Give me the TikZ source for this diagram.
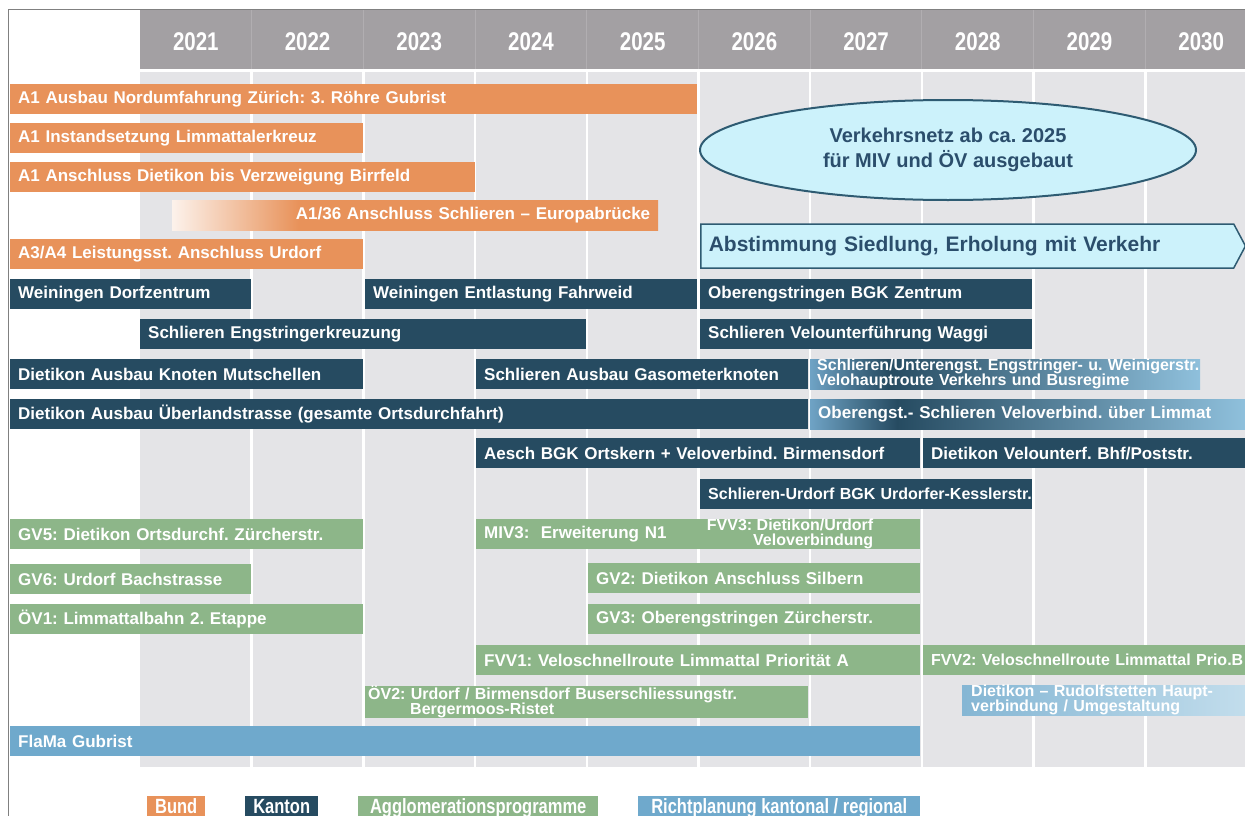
\documentclass[tikz,border=0pt]{standalone}
\usepackage{fontspec}
\setmainfont{Liberation Sans}
\usetikzlibrary{positioning,shapes.geometric,shapes.symbols}
\frenchspacing
\definecolor{bund}{HTML}{E8925A}
\definecolor{kanton}{HTML}{264B61}
\definecolor{agglo}{HTML}{8DB689}
\definecolor{richt}{HTML}{6FA9CC}
\definecolor{headgray}{HTML}{A3A0A3}
\definecolor{colgray}{HTML}{E4E4E7}
\definecolor{netzfill}{HTML}{CCF2FB}
\definecolor{netzline}{HTML}{2E5B72}
\definecolor{netztext}{HTML}{2B4E6C}
\definecolor{veloedge}{HTML}{6FA3C5}
\definecolor{veloblue}{HTML}{8FC0DC}
\definecolor{lightricht}{HTML}{C2DDEC}
% fading fills for the open-ended bars
\pgfdeclarehorizontalshading{bundfade}{100bp}{color(0bp)=(white); color(25bp)=(bund!12); color(38bp)=(bund); color(100bp)=(bund)}
\pgfdeclarehorizontalshading{kantonfade}{100bp}{color(0bp)=(veloedge); color(25bp)=(veloedge); color(35bp)=(kanton); color(75bp)=(veloblue); color(100bp)=(veloblue)}
\pgfdeclarehorizontalshading{richtfade}{100bp}{color(0bp)=(richt!85!white); color(25bp)=(richt!85!white); color(75bp)=(lightricht); color(100bp)=(lightricht)}
\newcommand{\upstretch}[1]{\scalebox{1}[1.25]{#1}}

\begin{document}
\begin{tikzpicture}[x=1pt, y=-1pt,
    bar/.style={anchor=north west, minimum height=30pt, inner xsep=8pt, inner ysep=0pt,
      text width=#1-16pt, align=left, text=white, font=\fontsize{17}{18}\selectfont\bfseries},
    twoline/.style={font=\fontsize{16}{15}\selectfont\bfseries},
    year/.style={text=white, font=\fontsize{20.5}{22}\selectfont\bfseries},
    legend/.style={anchor=north west, inner xsep=0pt, inner ysep=4pt, text height=13pt, text depth=8pt,
      text=white, font=\fontsize{16.5}{18}\selectfont\bfseries},
    netz/.style={draw=netzline, fill=netzfill, text=netztext, font=\fontsize{20}{25}\selectfont\bfseries}]
  \path[use as bounding box, clip] (0,0) rectangle (1245,816);
  \fill[white] (0,0) rectangle (1245,816);

  % year grid
  \fill[colgray] (140,72) rectangle (1245,767);
  \fill[headgray] (140,10) rectangle (1245,69);
  \foreach \k in {1,...,9} {
    \draw[white, line width=2.5pt] (140+111.7*\k,72) -- (140+111.7*\k,767);
    \draw[headgray!85!white, line width=1pt] (140+111.7*\k,10) -- (140+111.7*\k,69);
  }
  \foreach \yr [count=\i] in {2021,...,2030}
    \node[year] (y\yr) at (140+111.7*\i-55.85,42) {\upstretch{\yr}};
  \draw[gray, line width=1pt] (8,816) -- (8,10) -- (1245,10);

  % Bund
  \node[bar=687pt, fill=bund] (a1nord) at (10,84) {A1 Ausbau Nordumfahrung Zürich: 3. Röhre Gubrist};
  \node[bar=353pt, fill=bund] (a1lim) at (10,123) {A1 Instandsetzung Limmattalerkreuz};
  \node[bar=465pt, fill=bund] (a1birr) at (10,162) {A1 Anschluss Dietikon bis Verzweigung Birrfeld};
  \node[bar=486pt, shading=bundfade, align=right] (a1euro) at (172,200) {A1/36 Anschluss Schlieren – Europabrücke};
  \node[bar=353pt, fill=bund] (a3urd) at (10,239) {A3/A4 Leistungsst. Anschluss Urdorf};

  \node[netz, ellipse, line width=2pt, minimum width=496pt, minimum height=100pt, align=center] (netzab) at (948,150)
    {Verkehrsnetz ab ca. 2025\\für MIV und ÖV ausgebaut};
  \node[netz, signal, signal to=east, signal pointer angle=124, line width=1.5pt, anchor=west,
    minimum height=44pt, inner xsep=8pt, text width=517pt, font=\fontsize{21}{24}\selectfont\bfseries] (abst) at (700,246)
    {Abstimmung Siedlung, Erholung mit Verkehr};

  % Kanton
  \node[bar=241pt, fill=kanton] (weidorf) at (10,279) {Weiningen Dorfzentrum};
  \node[bar=332pt, fill=kanton] (weifahr) at (365,279) {Weiningen Entlastung Fahrweid};
  \node[bar=332pt, fill=kanton] (oberbgk) at (700,279) {Oberengstringen BGK Zentrum};
  \node[bar=446pt, fill=kanton] (schleng) at (140,319) {Schlieren Engstringerkreuzung};
  \node[bar=332pt, fill=kanton] (schlwag) at (700,319) {Schlieren Velounterführung Waggi};
  \node[bar=353pt, fill=kanton] (dietmut) at (10,359) {Dietikon Ausbau Knoten Mutschellen};
  \node[bar=332pt, fill=kanton] (schlgas) at (476,359) {Schlieren Ausbau Gasometerknoten};
  \node[bar=390pt, shading=kantonfade, twoline, inner xsep=7pt, text width=376pt] (schlunt) at (810,359)
    {\mbox{Schlieren/Unterengst. Engstringer- u. Weinigerstr.}\\Velohauptroute Verkehrs und Busregime};
  \node[bar=798pt, fill=kanton] (dietueb) at (10,399) {Dietikon Ausbau Überlandstrasse (gesamte Ortsdurchfahrt)};
  \node[bar=435pt, shading=kantonfade] (oberlim) at (810,399) {Oberengst.- Schlieren Veloverbind. über Limmat};
  \node[bar=444pt, fill=kanton] (aesch) at (476,438) {Aesch BGK Ortskern + Veloverbind. Birmensdorf};
  \node[bar=322pt, fill=kanton] (dietbhf) at (923,438) {Dietikon Velounterf. Bhf/Poststr.};
  \node[bar=332pt, fill=kanton, font=\fontsize{16}{18}\selectfont\bfseries] (schlurd) at (700,479)
    {\mbox{Schlieren-Urdorf BGK Urdorfer-Kesslerstr.}};

  % Agglomerationsprogramme
  \node[bar=353pt, fill=agglo] (gv5) at (10,519) {GV5: Dietikon Ortsdurchf. Zürcherstr.};
  \node[bar=444pt, fill=agglo] (miv3) at (476,519) {MIV3:~~Erweiterung N1};
  \node[twoline, text=white, align=right, inner sep=0pt, left=47pt of miv3.east] (fvv3)
    {FVV3: Dietikon/Urdorf\\Veloverbindung};
  \node[bar=241pt, fill=agglo] (gv6) at (10,564) {GV6: Urdorf Bachstrasse};
  \node[bar=332pt, fill=agglo] (gv2) at (588,563) {GV2: Dietikon Anschluss Silbern};
  \node[bar=353pt, fill=agglo] (oev1) at (10,604) {ÖV1: Limmattalbahn 2. Etappe};
  \node[bar=332pt, fill=agglo] (gv3) at (588,604) {GV3: Oberengstringen Zürcherstr.};
  \node[bar=444pt, fill=agglo] (fvv1) at (476,645) {FVV1: Veloschnellroute Limmattal Priorität A};
  \node[bar=322pt, fill=agglo, font=\fontsize{16}{18}\selectfont\bfseries] (fvv2) at (923,645)
    {\mbox{FVV2: Veloschnellroute Limmattal Prio.B}};
  \node[bar=443pt, fill=agglo, twoline, inner xsep=3pt, text width=437pt] (oev2) at (365,686)
    {ÖV2: Urdorf / Birmensdorf Buserschliessungstr.\\\hspace*{42pt}Bergermoos-Ristet};

  % Richtplanung
  \node[bar=283pt, shading=richtfade, twoline, inner xsep=9pt, text width=265pt] (dietrud) at (962,685)
    {Dietikon – Rudolfstetten Haupt-\\verbindung / Umgestaltung};
  \node[bar=910pt, fill=richt] (flama) at (10,726) {FlaMa Gubrist};

  % legend
  \node[legend, fill=bund, minimum width=58pt] (lbund) at (147,796) {\upstretch{Bund}};
  \node[legend, fill=kanton, minimum width=73pt] (lkanton) at (245,796) {\upstretch{Kanton}};
  \node[legend, fill=agglo, minimum width=240pt] (lagglo) at (358,796) {\upstretch{Agglomerationsprogramme}};
  \node[legend, fill=richt, minimum width=282pt] (lricht) at (638,796) {\upstretch{Richtplanung kantonal / regional}};
\end{tikzpicture}
\end{document}
